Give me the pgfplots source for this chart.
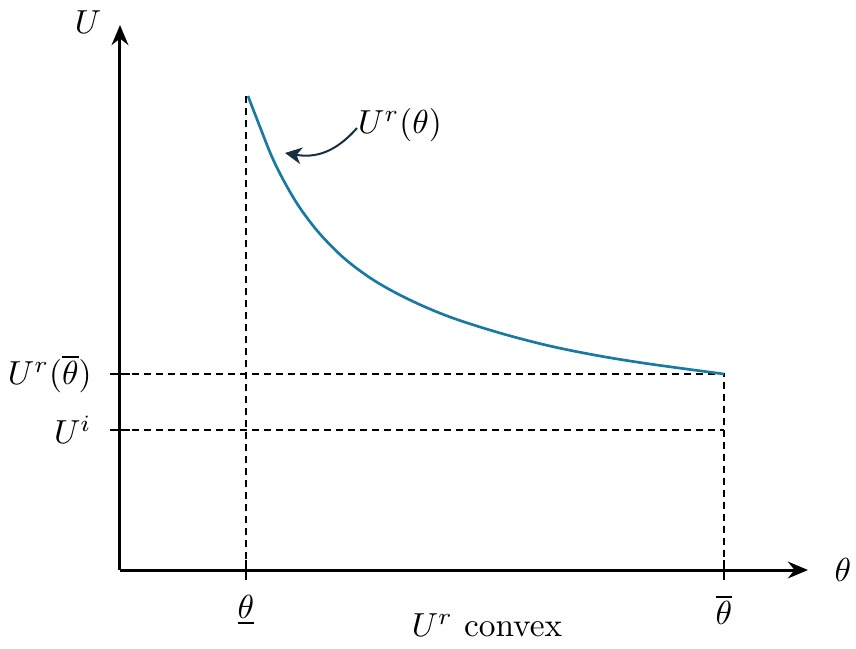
\documentclass[border=0pt]{standalone}
\usepackage{pgfplots}
\pgfplotsset{compat=1.18}
\usetikzlibrary{arrows.meta}

\definecolor{curveblue}{RGB}{24,122,162}
\definecolor{arrownavy}{RGB}{22,48,66}

\begin{document}
\begin{tikzpicture}
\begin{axis}[
  x=30pt, y=30pt,
  xmin=0, xmax=6.88, ymin=0, ymax=5.45,
  axis lines=left,
  axis line style={line width=0.9pt, -{Stealth[length=6pt,width=5pt]}},
  clip=false,
  xtick={1.26,6.04},
  xticklabels={$\underline{\theta}$,$\overline{\theta}$},
  ytick={1.40,1.96},
  yticklabels={$U^{i}$,$U^{r}(\overline{\theta})$},
  tick align=center,
  major tick length=6pt,
  tick style={black, line width=0.6pt},
  xticklabel style={yshift=-1pt},
  yticklabel style={xshift=-2pt},
]
% corners of the drawing area
\coordinate (frameSW) at (axis cs:-1.2,-0.78);
\coordinate (frameNE) at (axis cs:7.36,5.70);

% reference levels
\addplot[black, line width=0.45pt, dash pattern=on 2pt off 1.6pt]
  coordinates {(0,1.96) (6.04,1.96) (6.04,0)};
\addplot[black, line width=0.45pt, dash pattern=on 2pt off 1.6pt]
  coordinates {(0,1.40) (6.04,1.40)};
\addplot[black, line width=0.45pt, dash pattern=on 2pt off 1.6pt]
  coordinates {(1.26,4.74) (1.26,0)};

% convex utility curve
\addplot[curveblue, line width=0.8pt, smooth, tension=0.55] coordinates {
  (1.28,4.74) (1.40,4.43) (1.52,4.13) (1.65,3.87) (1.80,3.62)
  (2.00,3.36) (2.25,3.11) (2.55,2.89) (2.90,2.70) (3.30,2.53)
  (3.80,2.37) (4.30,2.24) (4.80,2.14) (5.30,2.06) (6.04,1.96)
};

% labels
\node at (axis cs:2.80,4.45) {$U^{r}(\theta)$};
\draw[arrownavy, line width=0.6pt, -{Stealth[length=5pt,width=5pt,inset=1.5pt]}]
  (axis cs:2.37,4.42) .. controls (axis cs:2.15,4.17) and (axis cs:1.95,4.12) .. (axis cs:1.65,4.17);
\node at (axis cs:7.23,0) {$\theta$};
\node at (axis cs:-0.32,5.48) {$U$};
\node at (axis cs:3.67,-0.55) {$U^{r}$ convex};
\end{axis}
\pgfresetboundingbox
\path (frameSW) rectangle (frameNE);
\end{tikzpicture}
\end{document}
